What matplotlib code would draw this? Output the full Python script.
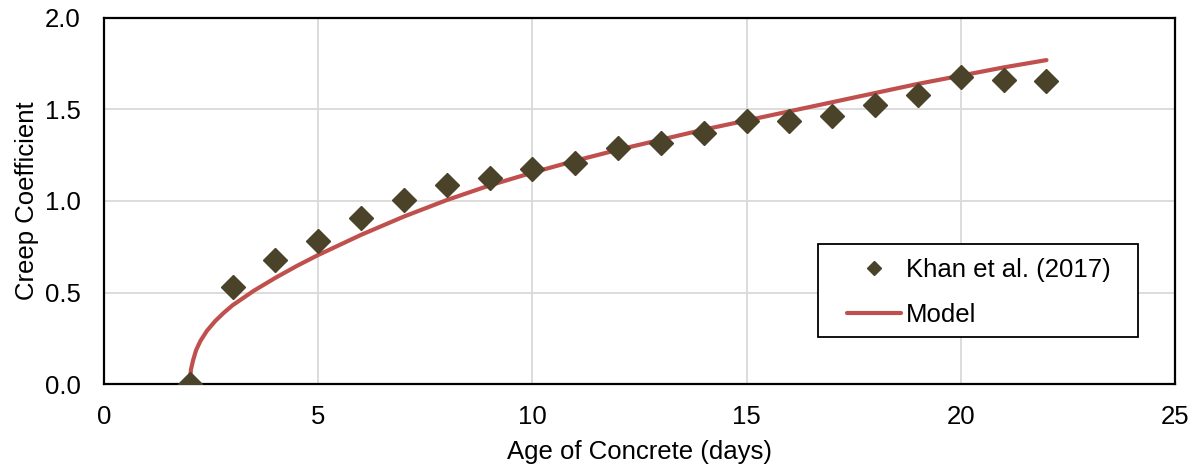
import matplotlib
matplotlib.use("Agg")
import matplotlib.pyplot as plt
from matplotlib.patches import Rectangle

plt.rcParams['font.family'] = ['Liberation Sans', 'DejaVu Sans']

# Experimental data (Khan et al. 2017)
age_days = [2, 3, 4, 5, 6, 7, 8, 9, 10, 11, 12, 13, 14, 15, 16, 17, 18, 19, 20, 21, 22]
creep_measured = [0.0, 0.53, 0.68, 0.78, 0.905, 1.005, 1.087, 1.126, 1.175, 1.206, 1.291,
                  1.319, 1.373, 1.437, 1.439, 1.464, 1.525, 1.579, 1.676, 1.661, 1.656]

# Model curve
model_age = [2.0, 2.03, 2.08, 2.15, 2.25, 2.4, 2.6, 2.8, 3.0, 3.5, 4.0, 4.5, 5.0, 6.0, 7.0, 8.0,
             9.0, 10.0, 11.0, 12.0, 13.0, 14.0, 15.0, 16.0, 17.0, 18.0, 19.0, 20.0, 21.0, 22.0]
model_creep = [0.0, 0.08, 0.13, 0.185, 0.235, 0.29, 0.345, 0.39, 0.43, 0.51, 0.58, 0.645, 0.705,
               0.815, 0.915, 1.005, 1.085, 1.155, 1.22, 1.28, 1.335, 1.39, 1.44, 1.49, 1.54,
               1.59, 1.64, 1.685, 1.73, 1.77]

x_ticks = [0, 5, 10, 15, 20, 25]
y_ticks = [0.0, 0.5, 1.0, 1.5, 2.0]

W, H = 1198, 472
FS = 18.5
fig = plt.figure(figsize=(W/100, H/100), dpi=100)
ax = fig.add_axes([104/W, 88/H, 1071/W, 366/H])

ax.plot(model_age, model_creep, color='#c0504d', linewidth=3.0, label='Model',
        solid_capstyle='round', solid_joinstyle='round', zorder=3)
ax.plot(age_days, creep_measured, linestyle='none', marker='D', markersize=12.5,
        color='#4a4329', label='Khan et al. (2017)', zorder=4)

ax.set_xlim(0, 25)
ax.set_ylim(0, 2.0)
ax.set_xticks(x_ticks)
ax.set_yticks(y_ticks)
ax.set_xticklabels([str(v) for v in x_ticks])
ax.set_yticklabels([f"{v:.1f}" for v in y_ticks])
ax.tick_params(axis='both', length=0, labelsize=FS, colors='#000000')
ax.tick_params(axis='y', pad=17)
ax.tick_params(axis='x', pad=15)

ax.grid(True, color='#d9d9d9', linewidth=1.3)
ax.set_axisbelow(True)
for sp in ax.spines.values():
    sp.set_color('black')
    sp.set_linewidth(1.6)

ax.set_xlabel('Age of Concrete (days)', fontsize=FS, labelpad=8)
ax.set_ylabel('Creep Coefficient', fontsize=FS, labelpad=4)

# legend box (frame drawn separately to match padding)
fig.patches.append(Rectangle((818/W, (H-337)/H), 320/W, 93/H, transform=fig.transFigure,
                             facecolor='white', edgecolor='black', linewidth=1.3, zorder=5))
handles, labels = ax.get_legend_handles_labels()
leg = fig.legend(handles[::-1], labels[::-1], loc='upper left',
                 bbox_to_anchor=(847/W, (H-258)/H), fontsize=FS, frameon=False,
                 markerscale=0.55, handlelength=2.1, handletextpad=0.2,
                 labelspacing=0.82, borderpad=0, borderaxespad=0)
leg.set_zorder(6)

fig.savefig('out.png', dpi=100)
